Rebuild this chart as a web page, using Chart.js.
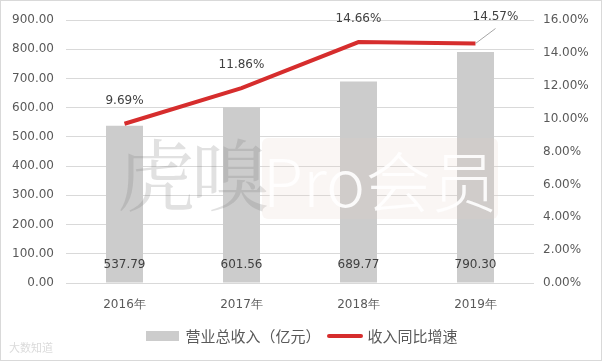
<!DOCTYPE html>
<html>
<head>
<meta charset="utf-8">
<script src="https://cdn.jsdelivr.net/npm/chart.js@4.4.1/dist/chart.umd.min.js"></script>
<style>
  html, body { margin: 0; padding: 0; background: #fff; }
  #wrap {
    position: relative; width: 602px; height: 361px; box-sizing: border-box;
    border: 1px solid #d9d9d9; overflow: hidden;
    font-family: "DejaVu Sans", "Noto Sans CJK SC", sans-serif;
  }
  #wrap canvas { position: absolute; left: -1px; top: -1px; }
  .legend {
    position: absolute; top: 324px; left: 0; width: 602px;
    display: flex; justify-content: center; align-items: center;
    font-family: "Noto Sans CJK SC", sans-serif; font-size: 15px; color: #595959;
  }
  .legend .box { width: 33px; height: 10px; background: #cccccc; margin-right: 6px; }
  .legend .ln { width: 36px; height: 4px; background: #d62d2d; margin: 0 5px 0 6px; border-radius: 2px; }
  .wm1 {
    position: absolute; left: 116px; top: 120px; font-size: 78px; line-height: 100px;
    font-family: "Noto Serif CJK SC", "Noto Sans CJK SC", serif; color: rgba(120,120,120,0.22);
    letter-spacing: -4px;
  }
  .wm2 {
    position: absolute; left: 261px; top: 137px; width: 236px; height: 81px; border-radius: 6px;
    background: rgba(230,205,195,0.18); color: rgba(255,255,255,0.9);
    font-family: "Noto Sans CJK SC", sans-serif; font-size: 66px; line-height: 81px;
    text-align: center; font-weight: 300;
  }
  .wm3 {
    position: absolute; left: 8px; top: 338px; font-size: 11px; color: rgba(150,150,150,0.35);
    font-family: "Noto Sans CJK SC", sans-serif;
  }
</style>
</head>
<body>
<div id="wrap">
  <canvas id="chart" width="602" height="361"></canvas>
  <div class="wm1">虎嗅</div>
  <div class="wm2">Pro会员</div>
  <div class="wm3">大数知道</div>
  <div class="legend">
    <span class="box"></span><span>营业总收入（亿元）</span>
    <span class="ln"></span><span>收入同比增速</span>
  </div>
</div>
<script>
const years = ["2016年", "2017年", "2018年", "2019年"];
const revenue = [537.79, 601.56, 689.77, 790.30];
const growth = [9.69, 11.86, 14.66, 14.57];

const tickFont = { family: "DejaVu Sans", size: 12 };
const tickColor = "#595959";

// data labels for bars and the line
const labelPlugin = {
    id: "labels",
    afterDatasetsDraw(chart) {
        const c = chart.ctx;
        c.save();
        c.font = "12px 'DejaVu Sans'";
        c.fillStyle = "#404040";
        c.textAlign = "center";
        c.textBaseline = "middle";

        const barMeta = chart.getDatasetMeta(0);
        const yAxis = chart.scales.y;
        barMeta.data.forEach((bar, i) => {
            c.fillText(revenue[i].toFixed(2), bar.x, yAxis.getPixelForValue(0) - 18);
        });

        const lineMeta = chart.getDatasetMeta(1);
        lineMeta.data.forEach((pt, i) => {
            const txt = growth[i].toFixed(2) + "%";
            if (i === growth.length - 1) {
                // last label sits up and to the right with a leader line
                c.strokeStyle = "#a6a6a6";
                c.lineWidth = 1;
                c.beginPath();
                c.moveTo(pt.x, pt.y);
                c.lineTo(pt.x + 20, pt.y - 15);
                c.stroke();
                c.fillText(txt, pt.x + 20, pt.y - 27);
            } else {
                c.fillText(txt, pt.x, pt.y - 23);
            }
        });
        c.restore();
    }
};

new Chart(document.getElementById("chart"), {
    data: {
        labels: years,
        datasets: [{
            type: "bar",
            label: "营业总收入（亿元）",
            data: revenue,
            backgroundColor: "#cccccc",
            barPercentage: 0.316,
            categoryPercentage: 1,
            yAxisID: "y",
            order: 2
        }, {
            type: "line",
            label: "收入同比增速",
            data: growth,
            borderColor: "#d62d2d",
            borderWidth: 4,
            pointRadius: 0,
            tension: 0,
            yAxisID: "y1",
            order: 1
        }]
    },
    options: {
        responsive: false,
        animation: false,
        layout: { padding: { top: 20, bottom: 0, left: 0, right: 0 } },
        plugins: { legend: { display: false }, tooltip: { enabled: false } },
        scales: {
            x: {
                grid: { display: false },
                border: { display: false },
                ticks: { color: tickColor, font: tickFont, padding: 7 },
                afterFit(scale) { scale.height = 78; }
            },
            y: {
                position: "left",
                min: 0, max: 900,
                ticks: { stepSize: 100, color: tickColor, font: tickFont, padding: 12,
                    callback: v => v.toFixed(2) },
                grid: { color: "#d9d9d9", drawTicks: false },
                border: { display: false },
                afterFit(scale) { scale.width = 66; }
            },
            y1: {
                position: "right",
                min: 0, max: 16,
                ticks: { stepSize: 2, color: tickColor, font: tickFont, padding: 9,
                    callback: v => v.toFixed(2) + "%" },
                grid: { display: false, drawTicks: false },
                border: { display: false },
                afterFit(scale) { scale.width = 68; }
            }
        }
    },
    plugins: [labelPlugin]
});
</script>
</body>
</html>
